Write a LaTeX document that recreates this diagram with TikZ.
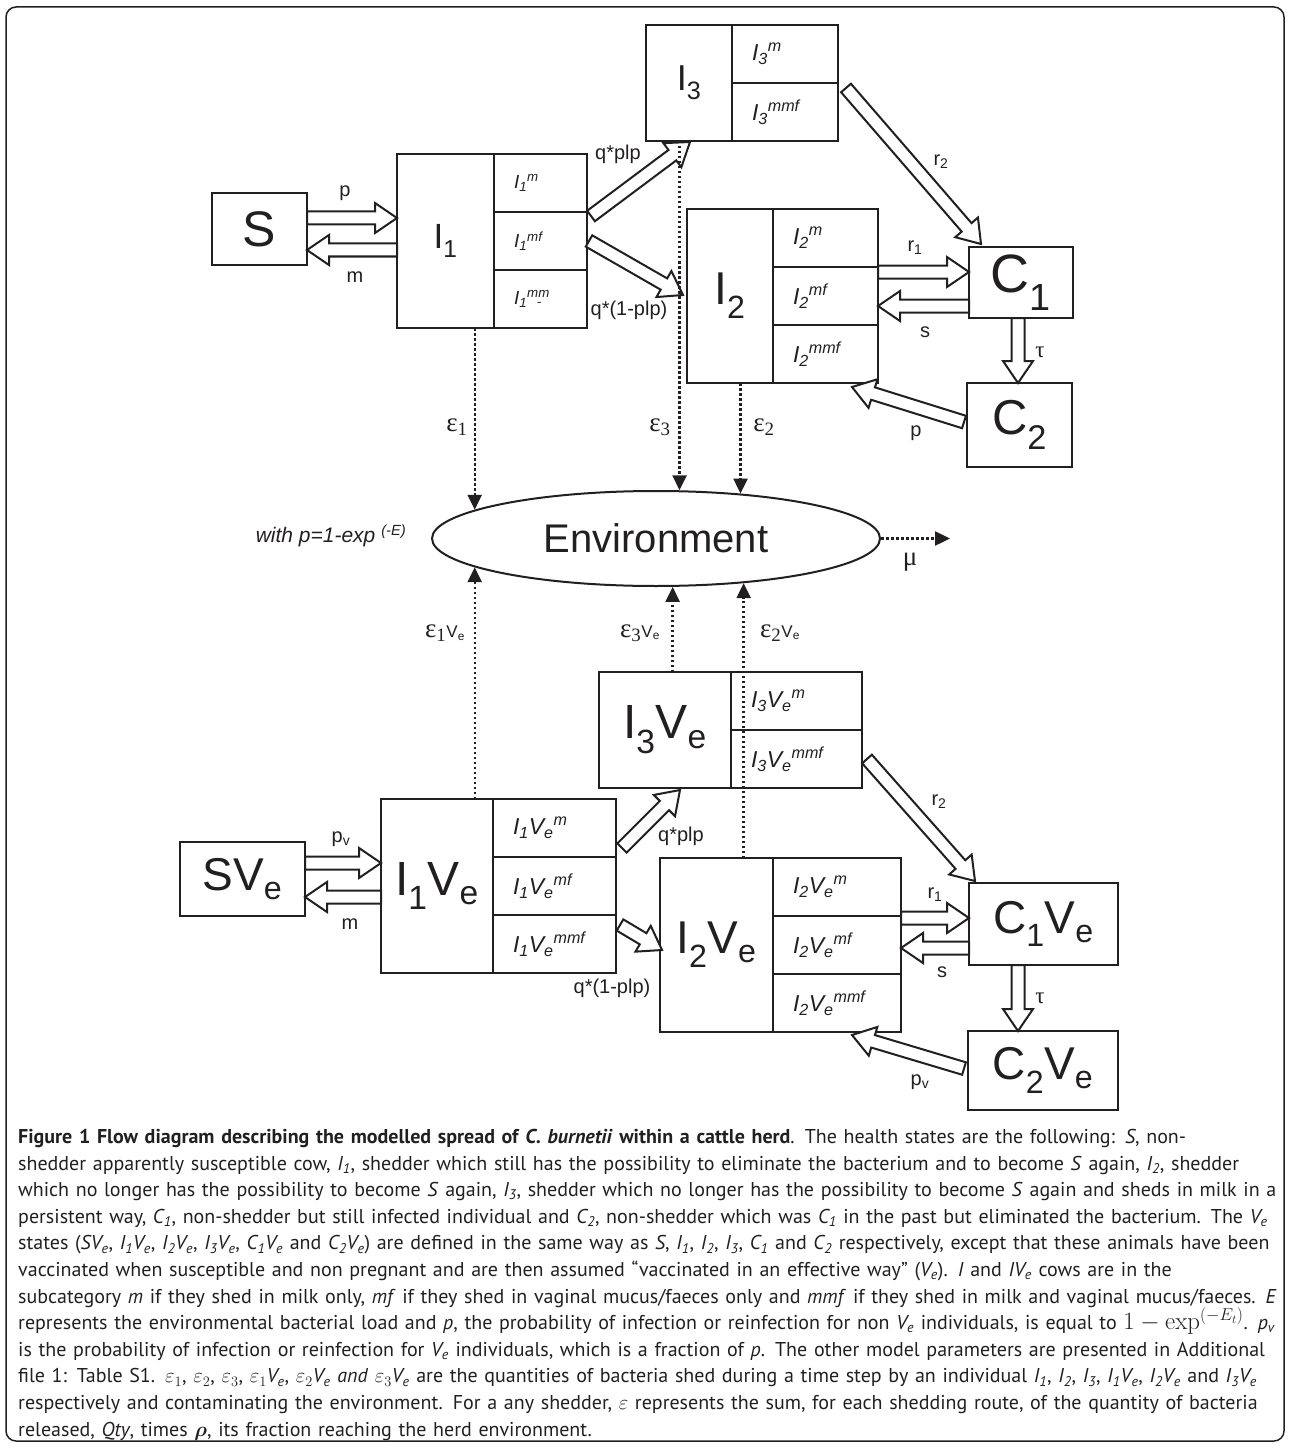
\documentclass[tikz,border=0pt]{standalone}
\usepackage{amsmath}
\usepackage[no-math]{fontspec}
\setmainfont{Liberation Sans}
\newfontfamily\capfont{PT Sans}
\newfontfamily\grk{Liberation Serif}
\usetikzlibrary{positioning,calc,shapes.geometric,arrows.meta}
\definecolor{ink}{HTML}{231F20}

% hollow block arrow between two points
\newcommand{\flowarrow}[2]{%
  \coordinate (fa) at (#1);
  \coordinate (fb) at (#2);
  \coordinate (fc) at ($(fb)!22pt!(fa)$);
  \draw[flow] ($(fa)!6.5pt!90:(fb)$) -- ($(fc)!6.5pt!90:(fb)$) -- ($(fc)!15pt!90:(fb)$) -- (fb)
    -- ($(fc)!15pt!-90:(fb)$) -- ($(fc)!6.5pt!-90:(fb)$) -- ($(fa)!6.5pt!-90:(fb)$) -- cycle;
}
\newcommand{\iv}[2]{\textit{#1\textsubscript{#2}}}
\newcommand{\ive}[2]{\textit{#1\textsubscript{#2}V\textsubscript{e}}}

\begin{document}
\begin{tikzpicture}[x=1pt, y=-1pt, color=ink,
    state/.style={draw, line width=2.5pt, inner sep=0pt, outer sep=0pt},
    part/.style={draw, line width=2.5pt, inner sep=0pt, inner xsep=20pt, outer sep=0pt, text width=#1, minimum height=58pt, align=left, font=\fontsize{23}{25}\selectfont\itshape},
    flow/.style={draw, fill=white, line width=2pt, line join=miter},
    shed/.style={line width=2.4pt, dash pattern=on 2.5pt off 2.5pt, -{Triangle[width=14pt,length=15pt]}},
    lab/.style={font=\fontsize{20}{22}\selectfont, inner sep=0pt},
    eps/.style={font=\grk\fontsize{27}{29}\selectfont, inner sep=0pt}]

    \useasboundingbox (0,0) rectangle (1290,1447);
    \draw[line width=1.5pt, rounded corners=10pt] (6,7) rectangle (1284,1441);

    % untreated herd
    \node[state, minimum width=95pt, minimum height=72pt, font=\fontsize{50}{54}\selectfont] (S) at (259.5,229) {S};
    \node[state, minimum width=97pt, minimum height=174pt, font=\fontsize{35}{38}\selectfont] (I1) at (445.5,241) {I\textsubscript{1}};
    \node[part=53pt, font=\fontsize{19}{21}\selectfont\itshape, anchor=north west] (I1m) at (I1.north east) {I\textsubscript{1}\textsuperscript{m}};
    \node[part=53pt, font=\fontsize{19}{21}\selectfont\itshape, below=0pt of I1m] (I1mf) {I\textsubscript{1}\textsuperscript{mf}};
    \node[part=53pt, font=\fontsize{19}{21}\selectfont\itshape, below=0pt of I1mf] (I1mmf) {I\textsubscript{1}\textsuperscript{mm}\kern-13pt\textsubscript{-}};

    \node[state, minimum width=86pt, minimum height=116pt, font=\fontsize{36}{40}\selectfont] (I3) at (689,83) {I\textsubscript{3}};
    \node[part=66pt, anchor=north west] (I3m) at (I3.north east) {I\textsubscript{3}\textsuperscript{m}};
    \node[part=66pt, below=0pt of I3m] (I3mmf) {I\textsubscript{3}\textsuperscript{mmf}};

    \node[state, minimum width=86pt, minimum height=174pt, font=\fontsize{46}{50}\selectfont] (I2) at (730,296) {I\textsubscript{2}};
    \node[part=65pt, anchor=north west] (I2m) at (I2.north east) {I\textsubscript{2}\textsuperscript{m}};
    \node[part=65pt, below=0pt of I2m] (I2mf) {I\textsubscript{2}\textsuperscript{mf}};
    \node[part=65pt, below=0pt of I2mf] (I2mmf) {I\textsubscript{2}\textsuperscript{mmf}};

    \node[state, minimum width=104pt, minimum height=71pt, font=\fontsize{54}{58}\selectfont] (C1) at (1021,282.5) {C\textsubscript{1}};
    \node[state, minimum width=105pt, minimum height=84pt, font=\fontsize{49}{53}\selectfont] (C2) at (1019.5,425) {C\textsubscript{2}};

    \flowarrow{$(S.east)+(0,-11)$}{$(I1.west)+(0,-23)$}
    \flowarrow{$(I1.west)+(0,9)$}{$(S.east)+(0,21)$}
    \flowarrow{$(I1m.south east)+(4,4)$}{$(I3.south west)+(44,1)$}
    \flowarrow{$(I1mf.east)+(2,0)$}{$(I2.west)+(-4,-1)$}
    \flowarrow{$(I3m.south east)+(8,5)$}{$(C1.north west)+(12,-3)$}
    \flowarrow{$(I2m.south east)+(0,5)$}{$(C1.west)+(0,-10.5)$}
    \flowarrow{$(C1.west)+(0,23.5)$}{$(I2mf.east)+(0,10)$}
    \flowarrow{$(C1.south)+(-3,0)$}{$(C2.north)+(-1.5,0)$}
    \flowarrow{$(C2.west)+(-3,-3)$}{$(I2mmf.south east)+(-26,4)$}

    \node[lab] (lp) at (345,193) {p};
    \node[lab] (lm) at (355,277) {m};
    \node[lab] (lq) at (618,154) {q*plp};
    \node[lab] (lq1) at (629,310) {q*(1-plp)};
    \node[lab] (lr2) at (941,162) {r\textsubscript{2}};
    \node[lab] (lr1) at (915,248) {r\textsubscript{1}};
    \node[lab] (ls) at (925,332) {s};
    \node[lab] (lp2) at (916,433) {p};
    \node[eps, font=\grk\fontsize{23}{25}\selectfont] (ltau) at (1040,352) {τ};

    % environment
    \node[draw, ellipse, line width=2pt, minimum width=448pt, minimum height=95pt, inner sep=0pt, font=\fontsize{40}{44}\selectfont] (Env) at (656,538.5) {Environment};
    \node[font=\fontsize{21}{23}\selectfont\itshape, inner sep=0pt] (note) at (331,536) {with p=1-exp \textsuperscript{(-E)}};
    \coordinate (muend) at (950,538.5);

    \draw[shed] (Env.171 |- I1.south) -- (Env.171);
    \draw[shed] (Env.64 |- I3.south) -- (Env.64);
    \draw[shed] (Env.28 |- I2.south) -- (Env.28);
    \draw[shed] (Env.east) -- (muend);
    \node[eps] (le1) at (457,427) {ε\textsubscript{1}};
    \node[eps] (le3) at (660,427) {ε\textsubscript{3}};
    \node[eps] (le2) at (764,427) {ε\textsubscript{2}};
    \node[eps] (lmu) at (910,562) {μ};

    % vaccinated herd
    \node[state, minimum width=125pt, minimum height=74pt, font=\fontsize{46}{50}\selectfont] (SVe) at (242.5,879) {SV\textsubscript{e}};
    \node[state, minimum width=112pt, minimum height=174pt, font=\fontsize{48}{52}\selectfont] (I1Ve) at (437,886) {I\textsubscript{1}V\textsubscript{e}};
    \node[part=83pt, anchor=north west] (I1Vem) at (I1Ve.north east) {I\textsubscript{1}V\textsubscript{e}\textsuperscript{m}};
    \node[part=83pt, below=0pt of I1Vem] (I1Vemf) {I\textsubscript{1}V\textsubscript{e}\textsuperscript{mf}};
    \node[part=83pt, below=0pt of I1Vemf] (I1Vemmf) {I\textsubscript{1}V\textsubscript{e}\textsuperscript{mmf}};

    \node[state, minimum width=132pt, minimum height=116pt, font=\fontsize{48}{52}\selectfont] (I3Ve) at (665,730) {I\textsubscript{3}V\textsubscript{e}};
    \node[part=91pt, anchor=north west] (I3Vem) at (I3Ve.north east) {I\textsubscript{3}V\textsubscript{e}\textsuperscript{m}};
    \node[part=91pt, below=0pt of I3Vem] (I3Vemmf) {I\textsubscript{3}V\textsubscript{e}\textsuperscript{mmf}};

    \node[state, minimum width=113pt, minimum height=174pt, font=\fontsize{46}{50}\selectfont] (I2Ve) at (716.5,945) {I\textsubscript{2}V\textsubscript{e}};
    \node[part=88pt, anchor=north west] (I2Vem) at (I2Ve.north east) {I\textsubscript{2}V\textsubscript{e}\textsuperscript{m}};
    \node[part=88pt, below=0pt of I2Vem] (I2Vemf) {I\textsubscript{2}V\textsubscript{e}\textsuperscript{mf}};
    \node[part=88pt, below=0pt of I2Vemf] (I2Vemmf) {I\textsubscript{2}V\textsubscript{e}\textsuperscript{mmf}};

    \node[state, minimum width=149pt, minimum height=82pt, font=\fontsize{46}{50}\selectfont] (C1Ve) at (1043.5,924) {C\textsubscript{1}V\textsubscript{e}};
    \node[state, minimum width=150pt, minimum height=79pt, font=\fontsize{46}{50}\selectfont] (C2Ve) at (1043,1070.5) {C\textsubscript{2}V\textsubscript{e}};

    \draw[shed] (Env.189 |- I1Ve.north) -- (Env.189);
    \draw[shed] (Env.289 |- I3Ve.north) -- (Env.289);
    \draw[shed] (Env.333 |- I2Ve.north) -- (Env.333);
    \node[eps] (le1v) at (445,633) {ε\textsubscript{1}\rmfamily\fontsize{17}{18}\selectfont V\textsubscript{e}};
    \node[eps] (le3v) at (640,633) {ε\textsubscript{3}\rmfamily\fontsize{17}{18}\selectfont V\textsubscript{e}};
    \node[eps] (le2v) at (780,633) {ε\textsubscript{2}\rmfamily\fontsize{17}{18}\selectfont V\textsubscript{e}};

    \flowarrow{$(SVe.east)+(0,-16)$}{$(I1Ve.west)+(0,-23)$}
    \flowarrow{$(I1Ve.west)+(0,11)$}{$(SVe.east)+(0,18)$}
    \flowarrow{$(I1Vem.south east)+(6,-9)$}{$(I3Ve.south west)+(81,2)$}
    \flowarrow{$(I1Vemmf.north east)+(4,10)$}{$(I2Ve.west)+(2,5)$}
    \flowarrow{$(I3Vemmf.east)+(5,0)$}{$(C1Ve.north west)+(6,-2)$}
    \flowarrow{$(I2Vem.south east)+(0,2)$}{$(C1Ve.west)+(0,-6)$}
    \flowarrow{$(C1Ve.west)+(0,24)$}{$(I2Vemf.east)+(0,3)$}
    \flowarrow{$(C1Ve.south)+(-25.5,0)$}{$(C2Ve.north)+(-25,0)$}
    \flowarrow{$(C2Ve.west)+(-4,-2)$}{$(I2Vemmf.south east)+(-49,3)$}

    \node[lab] (lpv) at (341,839) {p\textsubscript{v}};
    \node[lab] (lmv) at (350,924) {m};
    \node[lab] (lqv) at (681,836) {q*plp};
    \node[lab] (lq1v) at (612,988) {q*(1-plp)};
    \node[lab] (lr2v) at (939,802) {r\textsubscript{2}};
    \node[lab] (lr1v) at (935,895) {r\textsubscript{1}};
    \node[lab] (lsv) at (942,972) {s};
    \node[lab] (lpv2) at (920,1082) {p\textsubscript{v}};
    \node[eps, font=\grk\fontsize{23}{25}\selectfont] (ltauv) at (1040,998) {τ};

    % caption
    \node[anchor=north west, inner sep=0pt, text width=1268pt, align=left, font=\capfont\fontsize{20}{26.6}\selectfont] (cap) at (18,1129) {%
\textbf{Figure 1 Flow diagram describing the modelled spread of \textit{C. burnetii} within a cattle herd}. The health states are the following: \textit{S}, non-\\
shedder apparently susceptible cow, \iv{I}{1}, shedder which still has the possibility to eliminate the bacterium and to become \textit{S} again, \iv{I}{2}, shedder\\
which no longer has the possibility to become \textit{S} again, \iv{I}{3}, shedder which no longer has the possibility to become \textit{S} again and sheds in milk in a\\
persistent way, \iv{C}{1}, non-shedder but still infected individual and \iv{C}{2}, non-shedder which was \iv{C}{1} in the past but eliminated the bacterium. The \iv{V}{e}\\
states (\textit{SV\textsubscript{e}}, \ive{I}{1}, \ive{I}{2}, \ive{I}{3}, \ive{C}{1} and \ive{C}{2}) are defined in the same way as \textit{S}, \iv{I}{1}, \iv{I}{2}, \iv{I}{3}, \iv{C}{1} and \iv{C}{2} respectively, except that these animals have been\\
vaccinated when susceptible and non pregnant and are then assumed “vaccinated in an effective way” (\iv{V}{e}). \textit{I} and \textit{IV\textsubscript{e}} cows are in the\\
subcategory \textit{m} if they shed in milk only, \textit{mf} if they shed in vaginal mucus/faeces only and \textit{mmf} if they shed in milk and vaginal mucus/faeces. \textit{E}\\
represents the environmental bacterial load and \textit{p}, the probability of infection or reinfection for non \iv{V}{e} individuals, is equal to {\fontsize{23}{24}\selectfont$1-\exp^{(-E_t)}$}. \iv{p}{v}\\
is the probability of infection or reinfection for \iv{V}{e} individuals, which is a fraction of \textit{p}. The other model parameters are presented in Additional\\
file 1: Table S1. $\varepsilon_1$, $\varepsilon_2$, $\varepsilon_3$, $\varepsilon_1$\iv{V}{e}, $\varepsilon_2$\iv{V}{e} \textit{and} $\varepsilon_3$\iv{V}{e} are the quantities of bacteria shed during a time step by an individual \iv{I}{1}, \iv{I}{2}, \iv{I}{3}, \ive{I}{1}, \ive{I}{2} and \ive{I}{3}\\
respectively and contaminating the environment. For a any shedder, $\varepsilon$ represents the sum, for each shedding route, of the quantity of bacteria\\
released, \textit{Qty}, times $\boldsymbol{\rho}$, its fraction reaching the herd environment.};
\end{tikzpicture}
\end{document}
